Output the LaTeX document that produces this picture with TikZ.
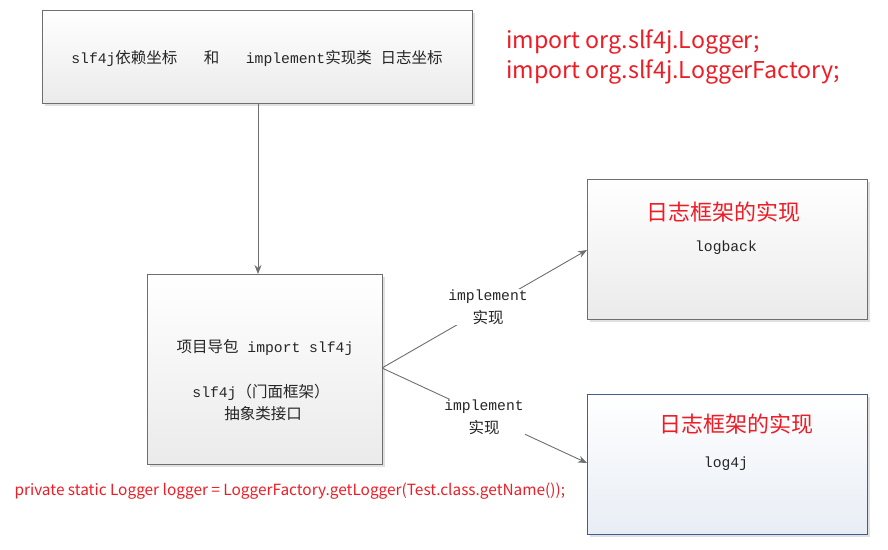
\documentclass[tikz,border=0pt]{standalone}
\usepackage{fontspec}
\setmainfont{Liberation Mono}
\newfontfamily\cjk{Noto Sans CJK SC}
\usetikzlibrary{arrows.meta,shadows}
\definecolor{edge}{HTML}{6E6E6E}
\definecolor{redtxt}{HTML}{EE1C25}
\definecolor{bluebd}{HTML}{3F5F8F}
\tikzset{
  box/.style={draw=edge, line width=0.9pt, top color=white, bottom color=black!8, shading angle=0,
    drop shadow={shadow xshift=3pt, shadow yshift=-3pt, fill=black!12, opacity=1}},
  bluebox/.style={draw=bluebd, line width=0.9pt, top color=white, bottom color={rgb,255:red,232;green,237;blue,245},
    drop shadow={shadow xshift=3pt, shadow yshift=-3pt, fill=black!12, opacity=1}},
  conn/.style={draw=edge, line width=0.9pt, -{Stealth[length=9pt,width=7pt]}},
  mono/.style={font=\fontsize{14.7}{17}\selectfont, text=black!85},
  redt/.style={text=redtxt, font=\cjk\fontsize{22}{30}\selectfont},
  lbl/.style={fill=white, inner sep=1pt, align=center, font=\fontsize{14.7}{23}\selectfont, text=black!85}
}
\newcommand{\zh}[1]{{\cjk\fontsize{15.5}{17}\selectfont #1}}
\begin{document}
\begin{tikzpicture}[x=1pt,y=-1pt]
\useasboundingbox (0,0) rectangle (888,549);
% boxes
\node[box, minimum width=430pt, minimum height=93pt, anchor=north west] (dep) at (42,10) {};
\node[box, minimum width=235pt, minimum height=190pt, anchor=north west] (proj) at (147,274) {};
\node[box, minimum width=280pt, minimum height=140pt, anchor=north west] (lb) at (587,179) {};
\node[bluebox, minimum width=280pt, minimum height=140pt, anchor=north west] (l4j) at (587,394) {};
% texts
\node[mono] (t1) at (257,58) {slf4j\zh{依赖坐标}\ \ \ \zh{和}\ \ \ implement\zh{实现类} \zh{日志坐标}};
\node[mono] (t2) at (265,347) {\zh{项目导包} import slf4j};
\node[mono] (t3) at (261,392) {slf4j\zh{（门面框架）}};
\node[mono] (t4) at (263,414) {\zh{抽象类接口}};
\node[redt] (r1) at (723,212) {日志框架的实现};
\node[mono] (t5) at (726,248) {logback};
\node[redt] (r2) at (736,424) {日志框架的实现};
\node[mono] (t6) at (726,464) {log4j};
% arrows
\coordinate (pr) at (382,368);
\draw[conn] (dep.south -| 258,0) -- (proj.north -| 258,0);
\draw[conn] (pr) -- (587,250) coordinate (lbin);
\draw[conn] (pr) -- (587,463) coordinate (l4in);
\node[lbl] (e1) at (488,307) {implement\\\zh{实现}};
\node[lbl] (e2) at (484,417) {implement\\\zh{实现}};
% red code
\node[redt, font=\cjk\fontsize{23.2}{30}\selectfont, anchor=west, align=left] (imp) at (503,57) {import org.slf4j.Logger;\\import org.slf4j.LoggerFactory;};
\node[text=redtxt, font=\cjk\fontsize{15.4}{18}\selectfont, anchor=west] (code) at (11,491) {private static Logger logger = LoggerFactory.getLogger(Test.class.getName());};
\end{tikzpicture}
\end{document}
